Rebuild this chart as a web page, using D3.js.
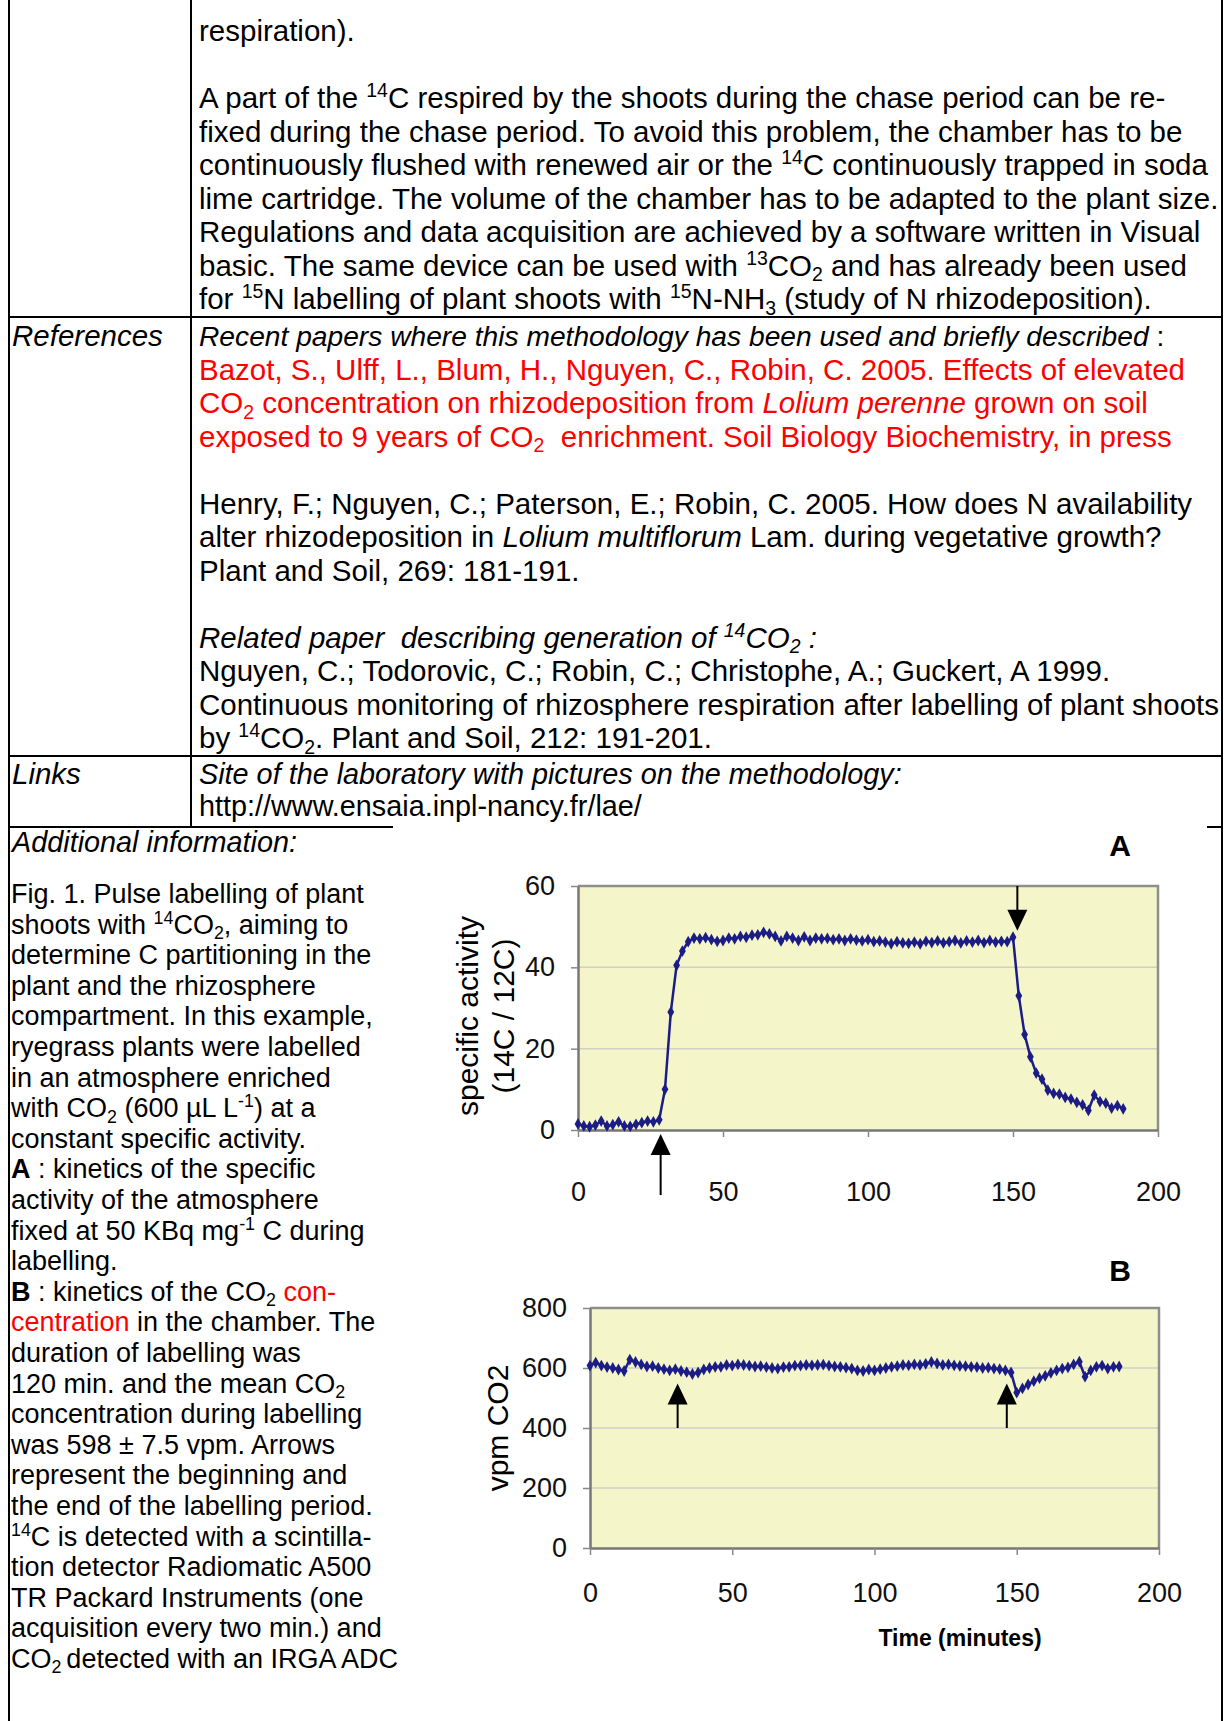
<!DOCTYPE html>
<html>
<head>
<meta charset="utf-8">
<script src="https://cdn.jsdelivr.net/npm/d3@7"></script>
<style>
body { margin: 0; background: #fff; }
text { font-family: Arial, "Liberation Sans", sans-serif; white-space: pre; }
</style>
</head>
<body>
<svg id="page" width="1224" height="1721"></svg>
<script>
// ---- chart data ----
var timeA = [0, 2, 4, 6, 8, 10, 12, 14, 16, 18,
    20, 22, 24, 26, 28, 30, 32, 34, 36, 38,
    40, 42, 44, 46, 48, 50, 52, 54, 56, 58,
    60, 62, 64, 66, 68, 70, 72, 74, 76, 78,
    80, 82, 84, 86, 88, 90, 92, 94, 96, 98,
    100, 102, 104, 106, 108, 110, 112, 114, 116, 118,
    120, 122, 124, 126, 128, 130, 132, 134, 136, 138,
    140, 142, 144, 146, 148, 150, 152, 154, 156, 158,
    160, 162, 164, 166, 168, 170, 172, 174, 176, 178,
    180, 182, 184, 186, 188];
var activityA = [1.5, 1.0, 0.8, 1.2, 2.2, 1.0, 1.3, 2.0, 1.0, 0.9,
    1.4, 1.8, 2.2, 2.0, 2.5, 10.0, 29.0, 40.5, 44.0, 46.3,
    47.2, 47.0, 47.3, 46.8, 46.4, 46.6, 47.2, 47.0, 47.6, 47.4,
    47.9, 48.0, 48.6, 48.2, 47.6, 46.5, 47.6, 47.2, 46.6, 47.5,
    46.6, 47.2, 47.0, 47.1, 46.8, 47.0, 46.6, 47.0, 46.7, 46.5,
    46.8, 46.3, 46.5, 46.2, 45.8, 46.3, 46.0, 45.9, 46.2, 45.8,
    46.4, 46.1, 46.5, 46.0, 46.3, 46.6, 46.0, 46.5, 46.2, 46.6,
    46.1, 46.6, 46.2, 46.4, 46.3, 47.4, 33.0, 23.5, 18.0, 14.0,
    12.5, 9.8, 9.0, 8.8, 8.0, 7.6, 6.8, 6.2, 4.8, 8.6,
    7.0, 6.6, 5.4, 6.0, 5.2];

var timeB = [0, 2, 4, 6, 8, 10, 12, 14, 16, 18,
    20, 22, 24, 26, 28, 30, 32, 34, 36, 38,
    40, 42, 44, 46, 48, 50, 52, 54, 56, 58,
    60, 62, 64, 66, 68, 70, 72, 74, 76, 78,
    80, 82, 84, 86, 88, 90, 92, 94, 96, 98,
    100, 102, 104, 106, 108, 110, 112, 114, 116, 118,
    120, 122, 124, 126, 128, 130, 132, 134, 136, 138,
    140, 142, 144, 146, 148, 150, 152, 154, 156, 158,
    160, 162, 164, 166, 168, 170, 172, 174, 176, 178,
    180, 182, 184, 186];
var co2B = [608, 618, 608, 603, 600, 595, 590, 628, 620, 612,
    605, 606, 600, 596, 592, 596, 590, 586, 580, 585,
    595, 600, 604, 604, 610, 608, 612, 610, 608, 605,
    606, 603, 600, 598, 603, 604, 608, 608, 610, 609,
    610, 611, 608, 605, 604, 601, 598, 592, 590, 595,
    592, 596, 600, 604, 606, 610, 609, 612, 610, 614,
    620, 615, 610, 612, 609, 607, 606, 604, 603, 600,
    601, 598, 596, 592, 585, 518, 532, 545, 556, 566,
    574, 584, 592, 598, 602, 612, 621, 571, 592, 604,
    608, 598, 604, 605];

var xTicks = [0, 50, 100, 150, 200];
var yTicksA = [0, 20, 40, 60];
var yTicksB = [0, 200, 400, 600, 800];

// arrows marking start / end of labelling: time, tail value, head value
var arrowsA = [{t: 28.5, from: -16, to: -1}, {t: 151.5, from: 60, to: 49}];
var arrowsB = [{t: 30.8, from: 400, to: 548}, {t: 146.5, from: 400, to: 548}];

// ---- document text ----
var topLines = [
    "respiration).",
    "",
    "A part of the ^{14}C respired by the shoots during the chase period can be re-",
    "fixed during the chase period. To avoid this problem, the chamber has to be",
    "continuously flushed with renewed air or the ^{14}C continuously trapped in soda",
    "lime cartridge. The volume of the chamber has to be adapted to the plant size.",
    "Regulations and data acquisition are achieved by a software written in Visual",
    "basic. The same device can be used with ^{13}CO_{2} and has already been used",
    "for ^{15}N labelling of plant shoots with ^{15}N-NH_{3} (study of N rhizodeposition)."
];
var refHead = "*Recent papers where this methodology has been used and briefly described* :";
var refLines = [
    "~Bazot, S., Ulff, L., Blum, H., Nguyen, C., Robin, C. 2005. Effects of elevated~",
    "~CO_{2} concentration on rhizodeposition from *Lolium perenne* grown on soil~",
    "~exposed to 9 years of CO_{2}  enrichment. Soil Biology Biochemistry, in press~",
    "",
    "Henry, F.; Nguyen, C.; Paterson, E.; Robin, C. 2005. How does N availability",
    "alter rhizodeposition in *Lolium multiflorum* Lam. during vegetative growth?",
    "Plant and Soil, 269: 181-191.",
    "",
    "*Related paper  describing generation of ^{14}CO_{2} :*",
    "Nguyen, C.; Todorovic, C.; Robin, C.; Christophe, A.; Guckert, A 1999.",
    "Continuous monitoring of rhizosphere respiration after labelling of plant shoots",
    "by ^{14}CO_{2}. Plant and Soil, 212: 191-201."
];
var linkLines = [
    "*Site of the laboratory with pictures on the methodology:*",
    "http://www.ensaia.inpl-nancy.fr/lae/"
];
var figLines = [
    "Fig. 1. Pulse labelling of plant",
    "shoots with ^{14}CO_{2}, aiming to",
    "determine C partitioning in the",
    "plant and the rhizosphere",
    "compartment. In this example,",
    "ryegrass plants were labelled",
    "in an atmosphere enriched",
    "with CO_{2} (600 µL L^{-1}) at a",
    "constant specific activity.",
    "#A# : kinetics of the specific",
    "activity of the atmosphere",
    "fixed at 50 KBq mg^{-1} C during",
    "labelling.",
    "#B# : kinetics of the CO_{2} ~con-~",
    "~centration~ in the chamber. The",
    "duration of labelling was",
    "120 min. and the mean CO_{2}",
    "concentration during labelling",
    "was 598 ± 7.5 vpm. Arrows",
    "represent the beginning and",
    "the end of the labelling period.",
    "^{14}C is detected with a scintilla-",
    "tion detector Radiomatic A500",
    "TR Packard Instruments (one",
    "acquisition every two min.) and",
    "CO_{2 }detected with an IRGA ADC"
];

var svg = d3.select("#page");

// writes one line; ^{..} superscript, _{..} subscript, *italic*, #bold#, ~red~
function addLine(x, y, str, size) {
    var t = svg.append("text").attr("x", x).attr("y", y).style("font-size", size + "px");
    var parts = str.split(/(\^\{[^}]*\}|_\{[^}]*\}|\*|#|~)/).filter(function (p) { return p !== ""; });
    var it = false, bold = false, red = false, shift = 0;
    parts.forEach(function (p) {
        if (p === "*") { it = !it; return; }
        if (p === "#") { bold = !bold; return; }
        if (p === "~") { red = !red; return; }
        var sup = p.slice(0, 2) === "^{", sub = p.slice(0, 2) === "_{";
        var txt = (sup || sub) ? p.slice(2, -1) : p;
        var target = sup ? -0.36 * size : sub ? 0.2 * size : 0;
        var s = t.append("tspan").text(txt)
            .attr("dy", target - shift)
            .attr("fill", red ? "#ff0000" : "#000")
            .style("font-style", it ? "italic" : null)
            .style("font-weight", bold ? "bold" : null);
        if (sup || sub) s.style("font-size", (size * 0.66) + "px");
        shift = target;
    });
}

// table rules
var rules = [
    [9, 0, 9, 1721], [191, 0, 191, 827], [1222, 0, 1222, 1721],
    [9, 317, 1222, 317], [9, 756, 1222, 756], [9, 827, 393, 827], [1207, 827, 1222, 827]
];
svg.selectAll("line.rule").data(rules).enter().append("line")
    .attr("class", "rule")
    .attr("x1", function (d) { return d[0]; }).attr("y1", function (d) { return d[1]; })
    .attr("x2", function (d) { return d[2]; }).attr("y2", function (d) { return d[3]; })
    .attr("stroke", "#000").attr("stroke-width", 2);

var TOP = 29.5, LH = 33.5;
topLines.forEach(function (l, i) { addLine(199, 41 + i * LH, l, TOP); });
addLine(12, 346, "*References*", TOP);
addLine(199, 346, refHead, 28.2);
refLines.forEach(function (l, i) { addLine(199, 346 + (i + 1) * LH, l, TOP); });
addLine(12, 784, "*Links*", TOP);
linkLines.forEach(function (l, i) { addLine(199, 784 + i * 32, l, 28.8); });
addLine(12, 852, "*Additional information:*", 28.8);
figLines.forEach(function (l, i) { addLine(11, 903 + i * 30.6, l, 27); });

// ---- charts ----
function drawChart(o) {
    var x = d3.scaleLinear().domain([0, 200]).range([o.left, o.right]);
    var y = d3.scaleLinear().domain([0, o.yMax]).range([o.bottom, o.top]);
    var g = svg.append("g");

    g.append("rect")
        .attr("x", o.left).attr("y", o.top)
        .attr("width", o.right - o.left).attr("height", o.bottom - o.top)
        .attr("fill", "#f4f6c9");

    g.selectAll(".grid").data(o.yTicks.slice(1, -1)).enter().append("line")
        .attr("x1", o.left).attr("x2", o.right)
        .attr("y1", function (d) { return y(d); }).attr("y2", function (d) { return y(d); })
        .attr("stroke", "#cfcfc4").attr("stroke-width", 1.5);

    g.append("path") // top and right frame
        .attr("d", "M" + o.left + "," + o.top + "H" + o.right + "V" + o.bottom)
        .attr("fill", "none").attr("stroke", "#8e8e8e").attr("stroke-width", 2.5);

    var yAxis = g.append("g").attr("transform", "translate(" + o.left + ",0)")
        .call(d3.axisLeft(y).tickValues(o.yTicks).tickSize(7).tickPadding(o.yPad).tickSizeOuter(0));
    var xAxis = g.append("g").attr("transform", "translate(0," + o.bottom + ")")
        .call(d3.axisBottom(x).tickValues(xTicks).tickSize(7).tickPadding(o.xPad).tickSizeOuter(0));
    [yAxis, xAxis].forEach(function (a) {
        a.attr("font-size", 27).attr("font-family", "Arial, 'Liberation Sans', sans-serif");
        a.select(".domain").attr("stroke", "#777").attr("stroke-width", 2.5);
        a.selectAll(".tick line").attr("stroke", "#888").attr("stroke-width", 1.5);
        a.selectAll(".tick text").attr("fill", "#111");
    });

    var pts = o.times.map(function (t, i) { return {t: t, v: o.values[i]}; });
    var line = d3.line()
        .x(function (d) { return x(d.t); })
        .y(function (d) { return y(d.v); });
    g.append("path").datum(pts)
        .attr("d", line)
        .attr("fill", "none").attr("stroke", "#1c1c86").attr("stroke-width", 2.5);
    g.selectAll(".pt").data(pts).enter().append("path")
        .attr("transform", function (d) { return "translate(" + x(d.t) + "," + y(d.v) + ")"; })
        .attr("d", d3.symbol().type(d3.symbolDiamond).size(40))
        .attr("fill", "#1c1c86");

    o.arrows.forEach(function (a) {
        var up = a.to > a.from;
        var hx = x(a.t), hy = y(a.to), dir = up ? 1 : -1;
        g.append("line")
            .attr("x1", hx).attr("x2", hx)
            .attr("y1", y(a.from)).attr("y2", hy + dir * 18)
            .attr("stroke", "#000").attr("stroke-width", 2);
        g.append("path")
            .attr("d", "M" + hx + "," + hy + "L" + (hx - 10) + "," + (hy + dir * 21) + "L" + (hx + 10) + "," + (hy + dir * 21) + "Z")
            .attr("fill", "#000");
    });

    g.append("text")
        .attr("x", 1120).attr("y", o.letterY)
        .attr("text-anchor", "middle")
        .style("font-size", "30px").style("font-weight", "bold")
        .text(o.letter);

    o.yTitle.forEach(function (s, i) {
        g.append("text")
            .attr("transform", "translate(" + o.yTitleX[i] + "," + ((o.top + o.bottom) / 2 + o.yTitleShift) + ") rotate(-90)")
            .attr("text-anchor", "middle")
            .attr("dy", "0.35em")
            .style("font-size", "30px")
            .text(s);
    });
    return x;
}

drawChart({
    left: 578, right: 1158, top: 886, bottom: 1130, yMax: 60,
    yTicks: yTicksA, yPad: 16, xPad: 45,
    times: timeA, values: activityA, arrows: arrowsA,
    letter: "A", letterY: 856,
    yTitle: ["specific activity", "(14C / 12C)"], yTitleX: [467, 503], yTitleShift: 8
});
drawChart({
    left: 590, right: 1159, top: 1308, bottom: 1548, yMax: 800,
    yTicks: yTicksB, yPad: 16, xPad: 28,
    times: timeB, values: co2B, arrows: arrowsB,
    letter: "B", letterY: 1281,
    yTitle: ["vpm CO2"], yTitleX: [497], yTitleShift: 0
});

svg.append("text")
    .attr("x", 960).attr("y", 1646)
    .attr("text-anchor", "middle")
    .style("font-size", "23px").style("font-weight", "bold")
    .text("Time (minutes)");
</script>
</body>
</html>
